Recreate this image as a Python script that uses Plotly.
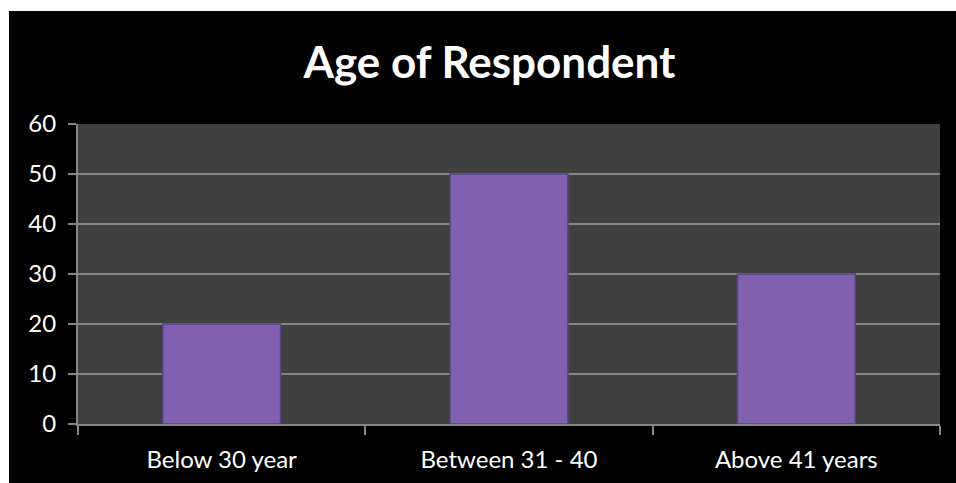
import plotly.graph_objects as go

categories = ["Below 30 year", "Between 31 - 40", "Above 41 years"]
values = [20, 50, 30]
y_ticks = [0, 10, 20, 30, 40, 50, 60]
title_text = "Age of Respondent"

W, H = 956, 483
L, R, T, B = 78, 16, 124, 59

fig = go.Figure()
fig.add_trace(go.Bar(
    x=categories, y=values, width=0.41,
    marker=dict(color="#8160b0", line=dict(color="#5a4284", width=1.5)),
    hoverinfo="x+y",
))

fig.update_layout(
    width=W, height=H,
    margin=dict(l=L, r=R, t=T, b=B, pad=0, autoexpand=False),
    paper_bgcolor="#000000",
    plot_bgcolor="#404040",
    showlegend=False,
    title=dict(text="<b>" + title_text + "</b>", x=0.512, xanchor="center",
               y=1 - 63 / H, yanchor="middle", yref="container",
               font=dict(family="Lato", size=44, color="#ffffff")),
    font=dict(family="Lato", color="#ffffff", size=24),
    xaxis=dict(
        showgrid=False, showline=True, linecolor="#868686", linewidth=2,
        ticks="outside", tickson="boundaries", ticklen=9, tickcolor="#868686", tickwidth=2,
        tickfont=dict(size=24, color="#ffffff"), ticklabelstandoff=13, automargin=False,
    ),
    yaxis=dict(
        range=[0, 60], tickvals=y_ticks, showgrid=True, gridcolor="#868686", gridwidth=2,
        showline=True, linecolor="#868686", linewidth=2,
        ticks="outside", ticklen=8, tickcolor="#868686", tickwidth=2,
        tickfont=dict(size=24, color="#ffffff"), ticklabelstandoff=7, automargin=False,
        zeroline=False,
    ),
    shapes=[
        dict(type="rect", xref="paper", yref="paper", layer="above",
             x0=-L / (W - L - R), x1=-(L - 9) / (W - L - R),
             y0=-B / (H - T - B), y1=(H - B) / (H - T - B),
             fillcolor="#ffffff", line=dict(width=0)),
        dict(type="rect", xref="paper", yref="paper", layer="above",
             x0=-L / (W - L - R), x1=(W - L) / (W - L - R),
             y0=(H - B - 11) / (H - T - B), y1=(H - B) / (H - T - B),
             fillcolor="#ffffff", line=dict(width=0)),
    ],
)

fig.write_html("out.html")
